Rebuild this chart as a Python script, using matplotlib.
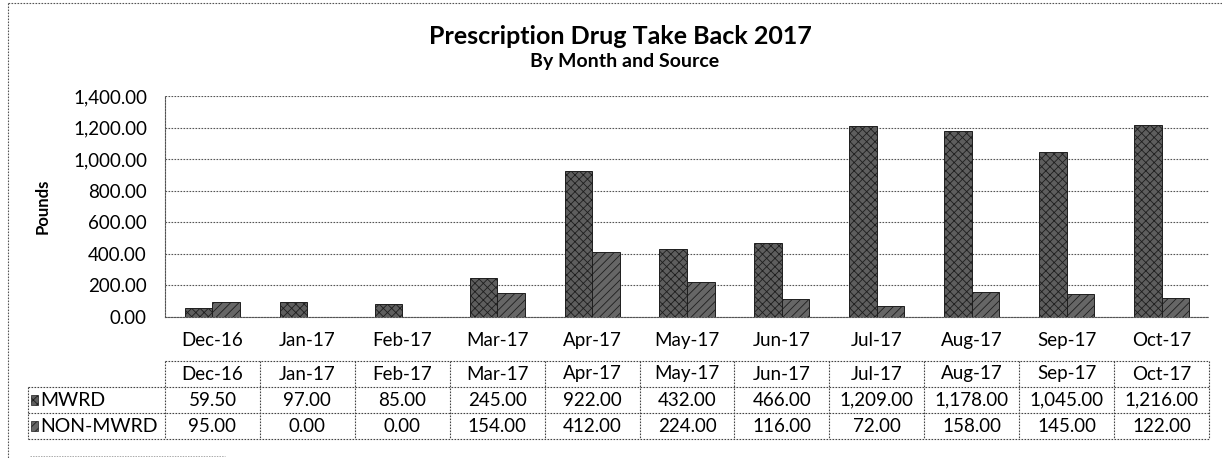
import numpy as np
import matplotlib
matplotlib.use("Agg")
import matplotlib.pyplot as plt
from matplotlib.lines import Line2D
from matplotlib.patches import Rectangle

months = ["Dec-16", "Jan-17", "Feb-17", "Mar-17", "Apr-17", "May-17",
          "Jun-17", "Jul-17", "Aug-17", "Sep-17", "Oct-17"]
mwrd = [59.50, 97.00, 85.00, 245.00, 922.00, 432.00, 466.00, 1209.00, 1178.00, 1045.00, 1216.00]
non_mwrd = [95.00, 0.00, 0.00, 154.00, 412.00, 224.00, 116.00, 72.00, 158.00, 145.00, 122.00]
series_names = ["MWRD", "NON-MWRD"]

plt.rcParams["font.family"] = ["Lato", "DejaVu Sans"]
plt.rcParams["hatch.linewidth"] = 0.6

W, H = 1222, 458
fig = plt.figure(figsize=(W / 100, H / 100), dpi=100)

# main bar area
ax = fig.add_axes([165 / W, 1 - 317 / H, (1209 - 165) / W, (317 - 96) / H])
x = np.arange(len(months))
w = 0.29
bar_kw = dict(edgecolor="#1e1e1e", linewidth=0.7, zorder=3)
ax.bar(x - w / 2, mwrd, w, color="#5e5e5e", hatch="xxxx", **bar_kw)
ax.bar(x + w / 2, non_mwrd, w, color="#666666", hatch="////", **bar_kw)

ax.set_xlim(-0.5, len(months) - 0.5)
ax.set_ylim(0, 1400)
ax.set_yticks(np.arange(0, 1401, 200))
ax.set_yticklabels([f"{v:,.2f}" for v in np.arange(0, 1401, 200)], fontsize=13.5)
ax.set_xticks(x)
ax.set_xticklabels(months, fontsize=13.5)
ax.tick_params(length=0, pad=13, axis="y")
ax.tick_params(length=0, pad=11, axis="x")
ax.grid(axis="y", color="#555555", linestyle=(0, (1.5, 1.2)), linewidth=0.8, zorder=0)
for s in ["top", "right"]:
    ax.spines[s].set_visible(False)
for s in ["left", "bottom"]:
    ax.spines[s].set_linestyle((0, (1.5, 1.2)))
    ax.spines[s].set_color("#555555")
    ax.spines[s].set_linewidth(0.8)
ax.set_ylabel("Pounds", fontsize=12, fontweight="bold", labelpad=16)

fig.text(620 / W, 1 - 36 / H, "Prescription Drug Take Back 2017",
         ha="center", va="center", fontsize=18, fontweight="bold")
fig.text(625 / W, 1 - 61 / H, "By Month and Source",
         ha="center", va="center", fontsize=14, fontweight="bold")

# data table under the chart
tab = fig.add_axes([28 / W, 1 - 439 / H, (1209 - 28) / W, (439 - 361) / H])
cat_px = (1209 - 165) / len(months)
left = -0.5 - (165 - 28) / cat_px
right = len(months) - 0.5
tab.set_xlim(left, right)
tab.set_ylim(3, 0)
tab.axis("off")

ls = dict(color="#444444", linestyle=(0, (1.5, 1.2)), linewidth=0.8, clip_on=False)
tab.plot([-0.5, right], [0, 0], **ls)
for r in [1, 2, 3]:
    tab.plot([left, right], [r, r], **ls)
for k in range(len(months) + 1):
    tab.plot([-0.5 + k, -0.5 + k], [0, 3], **ls)
tab.plot([left, left], [1, 3], **ls)

for i, m in enumerate(months):
    tab.text(i, 0.5, m, ha="center", va="center", fontsize=13.5)
    tab.text(i, 1.5, f"{mwrd[i]:,.2f}", ha="center", va="center", fontsize=13.5)
    tab.text(i, 2.5, f"{non_mwrd[i]:,.2f}", ha="center", va="center", fontsize=13.5)

hatches = ["xxxx", "////"]
colors = ["#5e5e5e", "#666666"]
for r, name in enumerate(series_names):
    tab.add_patch(Rectangle((left + 0.03, r + 1.32), 0.075, 0.36, facecolor=colors[r],
                            hatch=hatches[r], edgecolor="#1e1e1e", linewidth=0.5))
    tab.text(left + 0.13, r + 1.5, name, ha="left", va="center", fontsize=14)

# outer chart frame
frame = dict(color="#555555", linestyle=(0, (1.5, 1.2)), linewidth=0.8,
             transform=fig.transFigure)
fig.add_artist(Line2D([8 / W, 8 / W], [1 - 3 / H, 0], **frame))
fig.add_artist(Line2D([8 / W, 1], [1 - 3 / H, 1 - 3 / H], **frame))
fig.add_artist(Line2D([30 / W, 225 / W], [1 - 456 / H, 1 - 456 / H],
                      color="#aaaaaa", linestyle=(0, (1.5, 1.2)), linewidth=0.7,
                      transform=fig.transFigure))

fig.savefig("out.png", dpi=100)
